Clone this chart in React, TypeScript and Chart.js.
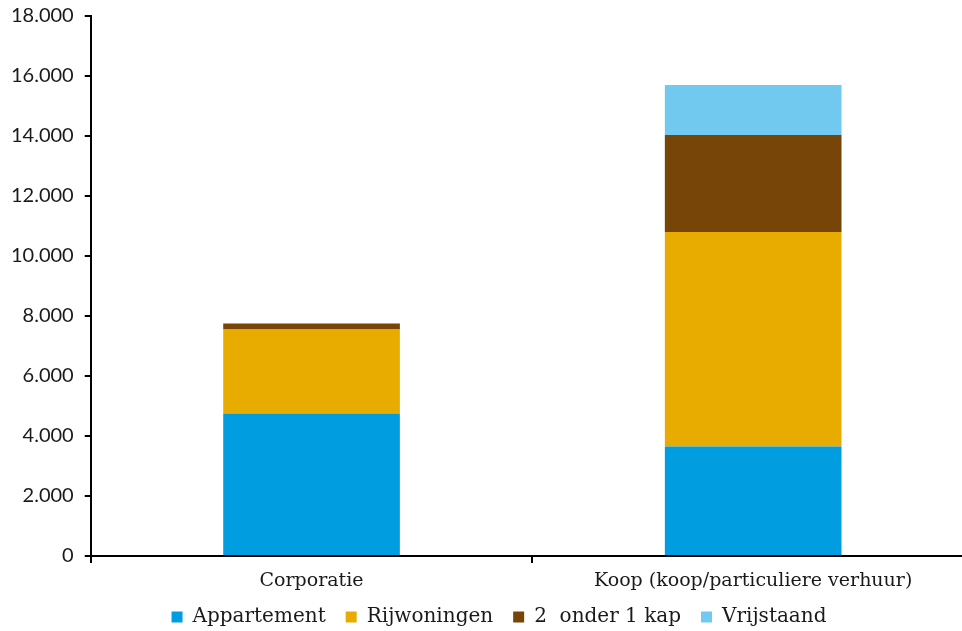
import React, { useEffect, useRef } from "react";
import { Chart, registerables } from "chart.js";

Chart.register(...registerables);

const categories = ["Corporatie", "Koop (koop/particuliere verhuur)"];
const seriesNames = ["Appartement", "Rijwoningen", "2  onder 1 kap", "Vrijstaand"];
const appartement = [4750, 3650];
const rijwoningen = [2800, 7150];
const tweeOnderEenKap = [200, 3230];
const vrijstaand = [0, 1670];
const colors = ["#009EE0", "#E8AB00", "#774508", "#71C9EF"];
const yMax = 18000;
const yStep = 2000;

const fmt = (v: number) => String(v).replace(/\B(?=(\d{3})+(?!\d))/g, ".");

const legendShift = {
  id: "legendShift",
  afterLayout(chart: any) {
    const lg = chart.legend;
    if (!lg) return;
    lg.top -= 13;
    lg.bottom -= 13;
    lg.left += 12;
    lg.right += 12;
  },
};

export default function App() {
  const ref = useRef<HTMLCanvasElement | null>(null);
  useEffect(() => {
    if (!ref.current) return;
    const serif = "'DejaVu Serif', serif";
    const values = [appartement, rijwoningen, tweeOnderEenKap, vrijstaand];
    const chart = new Chart(ref.current, {
      type: "bar",
      data: {
        labels: categories,
        datasets: seriesNames.map((n, i) => ({
          label: n,
          data: values[i],
          backgroundColor: colors[i],
          borderWidth: 0,
          categoryPercentage: 1,
          barPercentage: 0.4,
        })),
      },
      plugins: [legendShift],
      options: {
        responsive: false,
        animation: false,
        layout: { padding: { top: 0, left: 0, right: 0, bottom: 0 } },
        plugins: {
          tooltip: { enabled: false },
          legend: {
            position: "bottom",
            maxHeight: 44,
            labels: {
              boxWidth: 11,
              boxHeight: 11,
              padding: 20,
              color: "#1a1a1a",
              font: { family: serif, size: 20 },
            },
          },
        },
        scales: {
          x: {
            stacked: true,
            border: { display: true, color: "#000", width: 2 },
            grid: { display: true, drawOnChartArea: false, drawTicks: true, tickLength: 7, color: "#000", lineWidth: 2 },
            ticks: { color: "#1a1a1a", font: { family: serif, size: 19, lineHeight: 1 }, padding: 9 },
          },
          y: {
            stacked: true,
            min: 0,
            max: yMax,
            border: { display: true, color: "#000", width: 2 },
            grid: { display: true, drawOnChartArea: false, drawTicks: true, tickLength: 6, color: "#000", lineWidth: 2 },
            ticks: {
              stepSize: yStep,
              color: "#1a1a1a",
              font: { family: "Lato, sans-serif", size: 20 },
              padding: 11,
              callback: (v: any) => fmt(Number(v)),
            },
          },
        },
      },
    });
    return () => chart.destroy();
  }, []);
  return (
    <div style={{ position: "fixed", left: 0, top: 0, width: 962, height: 631, overflow: "hidden", background: "#fff" }}>
      <canvas ref={ref} width={974} height={651} style={{ display: "block", marginTop: -7 }} />
    </div>
  );
}
